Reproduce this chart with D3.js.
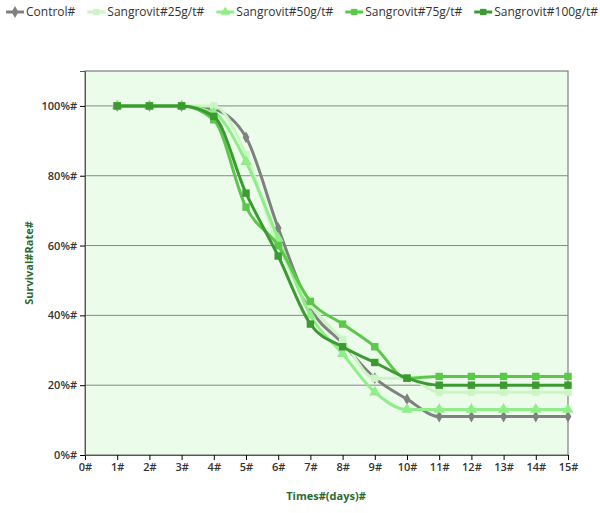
<!DOCTYPE html><html><head><meta charset="utf-8"><script src="https://cdn.jsdelivr.net/npm/d3@7"></script>
<style>body{margin:0;background:#fff}</style></head><body><svg id="c" width="600" height="513"></svg>
<script>
const days=[1,2,3,4,5,6,7,8,9,10,11,12,13,14,15];
const xTicks=[0,1,2,3,4,5,6,7,8,9,10,11,12,13,14,15];
const yTicks=[0,20,40,60,80,100];
const control=[100,100,100,99,91,65,42,32,22,16,11,11,11,11,11];
const s25=[100,100,100,100,86,60,43,33,22,22,18,18,18,18,18];
const s50=[100,100,100,98,84,62,40,29,18,13,13,13,13,13,13];
const s75=[100,100,100,96,71,60,44,37.5,31,22,22.5,22.5,22.5,22.5,22.5];
const s100=[100,100,100,97,75,57,37.5,31,26.5,22,20,20,20,20,20];
const names=["Control#","Sangrovit#25g/t#","Sangrovit#50g/t#","Sangrovit#75g/t#","Sangrovit#100g/t#"];
const series=[
 {name:names[0],v:control,c:"#808080",m:"diamond",w:3},
 {name:names[1],v:s25,c:"#ccf5c4",m:"square",w:3},
 {name:names[2],v:s50,c:"#90ee88",m:"triangle",w:3},
 {name:names[3],v:s75,c:"#5cc84a",m:"square",w:3},
 {name:names[4],v:s100,c:"#3d9a32",m:"square",w:3}];
const svg=d3.select("#c");
const x=d3.scaleLinear().domain([0,15]).range([85,568]);
const y=d3.scaleLinear().domain([0,110]).range([455,71]);
svg.append("rect").attr("x",85).attr("y",71).attr("width",483).attr("height",384).attr("fill","#ebfdea").attr("stroke","#666");
svg.append("g").selectAll("line").data(yTicks.slice(1)).join("line").attr("x1",85).attr("x2",568).attr("y1",d=>y(d)).attr("y2",d=>y(d)).attr("stroke","#888");
const ff="Open Sans, Liberation Sans, sans-serif";
svg.append("g").attr("transform","translate(0,455)").call(d3.axisBottom(x).tickValues(xTicks).tickFormat(d=>d+"#").tickSize(5)).call(g=>{g.select(".domain").attr("stroke","#555");g.selectAll("text").attr("font-family",ff).attr("font-size",11).attr("font-weight","600").attr("fill","#333")});
svg.append("g").attr("transform","translate(85,0)").call(d3.axisLeft(y).tickValues(yTicks).tickFormat(d=>d+"%#").tickSize(5)).call(g=>{g.select(".domain").attr("stroke","#555");g.selectAll("text").attr("font-family",ff).attr("font-size",11).attr("font-weight","600").attr("fill","#333")});
svg.append("text").attr("x",326).attr("y",500).attr("text-anchor","middle").attr("font-family",ff).attr("font-size",11).attr("font-weight","bold").attr("fill","#2d6a2d").text("Times#(days)#");
svg.append("text").attr("transform","translate(33,263) rotate(-90)").attr("text-anchor","middle").attr("font-family",ff).attr("font-size",11).attr("font-weight","bold").attr("fill","#2d6a2d").text("Survival#Rate#");
const line=d3.line().x((d,i)=>x(days[i])).y(d=>y(d)).curve(d3.curveMonotoneX);
const sym={diamond:d3.symbolDiamond,square:d3.symbolSquare,triangle:d3.symbolTriangle};
series.forEach(s=>{
 svg.append("path").attr("d",line(s.v)).attr("fill","none").attr("stroke",s.c).attr("stroke-width",s.w);
 svg.append("g").selectAll("path").data(s.v).join("path").attr("transform",(d,i)=>`translate(${x(days[i])},${y(d)})`).attr("d",d3.symbol(sym[s.m],s.m==="diamond"?40:55)).attr("fill",s.c);
});
let lx=6;
const lg=svg.append("g");
series.forEach(s=>{
 lg.append("line").attr("x1",lx).attr("x2",lx+18).attr("y1",12).attr("y2",12).attr("stroke",s.c).attr("stroke-width",3);
 lg.append("path").attr("transform",`translate(${lx+9},12)`).attr("d",d3.symbol(sym[s.m],40)).attr("fill",s.c);
 const t=lg.append("text").attr("x",lx+20).attr("y",16).attr("font-family",ff).attr("font-size",12).attr("fill","#333").text(s.name);
 lx+=t.node().getComputedTextLength()+32;
});
</script></body></html>
